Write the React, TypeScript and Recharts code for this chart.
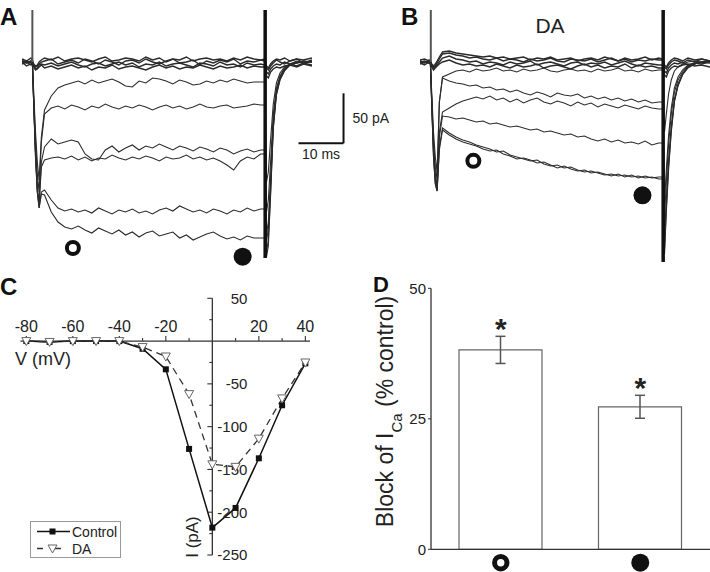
import React from 'react';
import { LineChart, Line, XAxis, YAxis, ReferenceLine, ReferenceDot, BarChart, Bar, ErrorBar } from 'recharts';

const FONT = '"Liberation Sans", Arial, Helvetica, sans-serif';
const INK = '#222';

// sampling times (ms) shared by all current traces in A and B
const TIMES = [
  0, 1, 2, 2.3, 2.6, 3.0, 3.4, 3.8, 4.3,
  5, 6.5, 8, 9.5, 11, 12.5, 14, 15.5, 17, 18.5, 20, 21.5, 23, 24.5, 26, 27.5, 29, 30.5,
  32, 33.5, 35, 36.5, 38, 39.5, 41, 42.5, 44, 45.5, 47, 48.5, 50, 51.5, 53,
  53.9, 54.3, 54.7, 55.2, 55.8, 56.5, 57.3, 58.3, 59.5, 61, 62.5, 64.4,
];

// A: control, traces at non-activating potentials (pA)
const A_BASE_1 = [2, -1, 1, 0, -3, -5, -4, -2, 0, 1, 3, -2, 0, 2, -1, 3, 1, -2, 2, 0, -3, 1, 2, -1, 3, 0, -2, 1, 3, -1, 0, 2, -3, 1, -1, 2, 0, 3, -2, 1, 0, 2, 1, -6, -8, -4, -1, 2, 0, -2, 1, 3, -1, 2];
const A_BASE_2 = [-2, 0, -3, -1, -4, -7, -6, -3, -2, -3, -1, -4, -2, 0, -3, -5, -2, -1, -4, -2, 0, -3, -1, -5, -2, -3, 0, -4, -2, -1, -3, -5, -1, -2, -4, 0, -3, -2, -5, -1, -3, -2, -3, -10, -12, -7, -4, -2, -3, 0, -2, -4, -1, -3];
const A_BASE_3 = [3, 1, 4, 2, -2, -4, -3, 0, 2, 4, 2, 5, 1, 3, 4, 2, 0, 3, 5, 1, 2, 4, 3, 1, 5, 2, 4, 0, 3, 2, 5, 1, 3, 4, 2, 3, 1, 4, 2, 5, 3, 2, 3, -4, -6, -2, 1, 3, 2, 4, 1, 3, 2, 4];
const A_BASE_4 = [0, -4, -2, -1, -5, -8, -7, -5, -3, -6, -4, -7, -5, -3, -6, -4, -8, -5, -6, -3, -7, -5, -4, -6, -8, -5, -3, -6, -4, -7, -5, -6, -3, -5, -7, -4, -6, -5, -3, -6, -4, -5, -5, -14, -16, -10, -7, -5, -6, -4, -3, -5, -2, -4];
// A: control, activating steps (pA)
const A_STEP_1 = [1, -1, 0, 0, -30, -70, -100, -118, -75, -48, -34, -26, -23, -21, -19, -22, -18, -21, -19, -17, -20, -24, -25, -19, -21, -16, -17, -19, -22, -18, -20, -23, -22, -19, -21, -18, -20, -17, -19, -21, -20, -20, -20, -120, -110, -78, -42, -21, -11, -5, -2, 1, -1, 0];
const A_STEP_2 = [-1, 1, 0, 0, -35, -80, -112, -130, -80, -52, -46, -44, -47, -43, -45, -48, -44, -46, -42, -45, -47, -44, -46, -43, -45, -48, -45, -43, -46, -44, -47, -45, -42, -45, -46, -44, -43, -46, -45, -44, -42, -43, -43, -150, -138, -100, -52, -26, -14, -6, -2, 0, 1, 0];
const A_STEP_3 = [0, -1, 1, 0, -40, -90, -125, -140, -100, -85, -77, -82, -80, -78, -80, -92, -97, -98, -88, -84, -90, -86, -83, -88, -84, -86, -82, -85, -88, -84, -86, -89, -85, -87, -90, -86, -88, -92, -89, -87, -90, -88, -88, -172, -160, -118, -60, -29, -15, -7, -3, 0, -1, 1];
const A_STEP_4 = [1, 0, -1, 0, -40, -90, -128, -142, -105, -98, -96, -95, -97, -94, -98, -95, -99, -96, -97, -93, -96, -98, -95, -97, -94, -96, -99, -95, -97, -96, -93, -97, -95, -98, -96, -99, -103, -108, -99, -95, -97, -92, -92, -180, -166, -122, -62, -30, -16, -8, -3, -1, 0, 0];
const A_STEP_5 = [0, 1, 0, 0, -42, -95, -130, -146, -130, -128, -138, -146, -149, -147, -150, -148, -151, -146, -149, -152, -148, -150, -147, -151, -149, -152, -148, -146, -149, -144, -147, -150, -148, -151, -147, -149, -152, -148, -150, -146, -149, -147, -147, -190, -178, -131, -66, -32, -17, -8, -3, -1, 0, 1];
const A_STEP_6 = [-1, 0, 1, 0, -42, -95, -130, -146, -132, -133, -150, -160, -165, -167, -164, -168, -171, -166, -169, -172, -168, -173, -170, -175, -171, -169, -174, -172, -170, -176, -173, -178, -175, -172, -170, -174, -177, -175, -178, -174, -176, -176, -176, -195, -184, -134, -67, -33, -18, -9, -3, -1, 1, 0];

// B: dopamine, traces at non-activating potentials (pA)
const B_BASE_1 = [1, -1, 2, 0, -3, -5, -4, -1, 3, 8, 9, 7, 6, 4, 5, 3, 2, 4, 1, 3, 2, 0, 3, 1, 2, 4, 1, 0, 3, 2, 1, 3, 0, 2, 4, 1, 3, 0, 2, 1, 3, 2, 2, -5, -7, -3, 0, 2, 1, -1, 2, 0, 3, 1];
const B_BASE_2 = [-2, 0, -1, -2, -4, -6, -5, -3, 0, 4, 6, 3, 2, 0, 1, -2, 0, -1, -3, 0, -2, -1, 1, -3, -1, 0, -2, -4, -1, 0, -3, -1, -2, 0, -3, -1, 1, -2, -4, -1, -2, -3, -3, -9, -11, -6, -3, -1, -2, 0, -3, -1, -2, 0];
const B_BASE_3 = [2, 3, 1, 2, -2, -4, -2, 1, 5, 10, 11, 9, 8, 7, 6, 5, 6, 4, 5, 3, 4, 5, 2, 4, 3, 5, 2, 3, 4, 1, 3, 4, 2, 5, 3, 1, 4, 2, 3, 5, 2, 4, 3, -3, -5, -1, 2, 4, 3, 1, 4, 2, 3, 1];
const B_BASE_4 = [-1, -3, 0, -1, -5, -8, -6, -4, -2, 0, 2, -1, -3, -2, -4, -3, -5, -2, -4, -6, -3, -5, -4, -2, -6, -4, -3, -5, -7, -4, -2, -5, -3, -6, -4, -5, -2, -6, -3, -5, -4, -6, -6, -13, -15, -9, -6, -4, -5, -3, -2, -4, -3, -5];
// B: dopamine, activating steps (pA)
const B_STEP_1 = [0, 1, -1, 0, -30, -70, -95, -110, -40, -15, -12, -9, -8, -10, -7, -9, -8, -6, -9, -8, -10, -7, -9, -8, -6, -9, -10, -8, -7, -9, -8, -10, -7, -9, -8, -6, -9, -8, -10, -7, -9, -8, -8, -70, -52, -32, -18, -9, -5, -2, 0, 1, 0, -1];
const B_STEP_2 = [1, 0, 0, 0, -35, -80, -105, -118, -40, -16, -19, -21, -22, -24, -23, -26, -25, -28, -27, -30, -28, -31, -33, -30, -32, -35, -31, -33, -34, -32, -36, -34, -37, -35, -38, -36, -39, -37, -40, -38, -41, -40, -40, -140, -108, -74, -46, -26, -15, -8, -3, -1, 0, 0];
const B_STEP_3 = [-1, 0, 1, 0, -38, -85, -112, -125, -70, -50, -46, -42, -39, -37, -35, -37, -34, -38, -36, -40, -37, -41, -38, -36, -40, -42, -39, -41, -44, -40, -43, -41, -45, -42, -44, -46, -43, -45, -47, -44, -46, -47, -47, -155, -120, -82, -52, -30, -18, -10, -4, -1, 0, 1];
const B_STEP_4 = [0, -1, 0, 0, -40, -90, -118, -128, -75, -54, -55, -57, -56, -58, -60, -59, -62, -61, -63, -65, -64, -66, -68, -67, -70, -69, -71, -73, -72, -75, -74, -77, -79, -77, -80, -78, -81, -80, -82, -79, -83, -81, -81, -175, -138, -98, -64, -37, -22, -12, -5, -2, 0, -1];
const B_STEP_5 = [1, 0, -1, 0, -42, -95, -122, -129, -85, -66, -71, -75, -78, -80, -83, -85, -87, -90, -89, -93, -95, -97, -99, -98, -102, -104, -103, -106, -105, -108, -110, -109, -111, -113, -112, -114, -113, -115, -114, -116, -115, -117, -117, -192, -150, -108, -70, -40, -24, -13, -6, -2, 0, 0];
const B_STEP_6 = [0, 1, 0, 0, -42, -95, -122, -129, -88, -68, -73, -77, -80, -82, -84, -87, -89, -88, -92, -94, -97, -96, -98, -101, -100, -103, -106, -104, -107, -109, -108, -111, -110, -112, -114, -112, -115, -113, -116, -114, -116, -115, -115, -188, -146, -104, -68, -39, -23, -12, -5, -2, 0, 1];

// capacitive artifacts at step onset / offset
const A_ART_ON = [{ t: 2.3, v: 52 }, { t: 2.3, v: 0 }];
const A_ART_OFF = [{ t: 54, v: 52 }, { t: 54, v: -196 }];
const B_ART_ON = [{ t: 2.4, v: 52 }, { t: 2.4, v: 0 }];
const B_ART_OFF = [{ t: 54, v: 52 }, { t: 54, v: -200 }];

// measurement points (open = early, filled = late)
const A_MARKS = [{ t: 11.3, v: -186 }, { t: 49, v: -194.7 }];
const B_MARKS = [{ t: 11.85, v: -98.8 }, { t: 49.4, v: -133.3 }];

// scale bar: 10 ms, 50 pA
const BAR_T0 = 61.4;
const BAR_I0 = -81.3;
const BAR_MS = 10;
const BAR_PA = 50;

// C: I-V relation
const IV_V = [-80, -70, -60, -50, -40, -30, -20, -10, 0, 10, 20, 30, 40];
const IV_CONTROL = [0, -1, 0, 0, 0, -9, -33, -126, -218, -195, -137, -75, -26];
const IV_DA = [0, -1, 0, 0, 0, -7, -18, -62, -144, -147, -114, -67, -25];
const IV_X_MAJOR = [-80, -60, -40, -20, 20, 40];
const IV_X_MINOR = [-70, -50, -30, -10, 10, 30];
const IV_Y_MAJOR = [50, -50, -100, -150, -200, -250];
const IV_Y_MINOR = [25, -25, -75, -125, -175, -225];

// D: block of I_Ca
const D_CATS = ['open', 'filled'];
const D_MEAN = [38.2, 27.3];
const D_SEM = [2.6, 2.2];

function buildRows(traces: number[][]) {
  return TIMES.map((t, i) => {
    const row: Record<string, number> = { t };
    traces.forEach((tr, k) => {
      row['s' + k] = tr[i];
    });
    return row;
  });
}

const ivRows = IV_V.map((v, i) => ({ v, control: IV_CONTROL[i], da: IV_DA[i] }));
const dRows = D_CATS.map((cat, i) => ({ cat, mean: D_MEAN[i], sem: D_SEM[i] }));

function TracePanel({ traces, artOn, artOff, marks, left, width, margin, children }: any) {
  const rows = buildRows(traces);
  return (
    <div style={{ position: 'absolute', left, top: 0 }}>
      <LineChart width={width} height={272} data={rows} margin={margin}>
        <XAxis type="number" dataKey="t" domain={[0, 64.4]} hide allowDataOverflow />
        <YAxis type="number" domain={[-206, 57]} hide allowDataOverflow />
        {traces.map((_: number[], k: number) => (
          <Line
            key={k}
            type="linear"
            dataKey={'s' + k}
            stroke="#2b2b2b"
            strokeWidth={k < 4 ? 1.4 : 1.1}
            dot={false}
            isAnimationActive={false}
          />
        ))}
        <Line data={artOn} type="linear" dataKey="v" stroke="#555" strokeWidth={2} dot={false} isAnimationActive={false} />
        <Line data={artOff} type="linear" dataKey="v" stroke="#111" strokeWidth={3.5} dot={false} isAnimationActive={false} />
        <ReferenceDot x={marks[0].t} y={marks[0].v} r={6} fill="#fff" stroke="#111" strokeWidth={4} ifOverflow="visible" />
        <ReferenceDot x={marks[1].t} y={marks[1].v} r={9} fill="#111" stroke="none" ifOverflow="visible" />
        {children}
      </LineChart>
    </div>
  );
}

function XTick({ cx, cy, text, major }: any) {
  return (
    <g>
      <line x1={cx} y1={cy} x2={cx} y2={cy - (major ? 5 : 3)} stroke="#333" strokeWidth={1.1} />
      {text !== undefined && (
        <text x={cx} y={cy - 9.5} textAnchor="middle" fontSize={16} fill={INK} fontFamily={FONT}>{text}</text>
      )}
    </g>
  );
}

function YTick({ cx, cy, text, major }: any) {
  return (
    <g>
      <line x1={cx - (major ? 5 : 3)} y1={cy} x2={cx} y2={cy} stroke="#333" strokeWidth={1.1} />
      {text !== undefined && (
        <text x={cx + 35} y={cy + 5.3} textAnchor="end" fontSize={15} fill={INK} fontFamily={FONT}>{text}</text>
      )}
    </g>
  );
}

function SquareDot(p: any) {
  return <rect key={'c' + p.index} x={p.cx - 3} y={p.cy - 3} width={6} height={6} fill="#111" />;
}

function TriangleDot(p: any) {
  const { cx, cy } = p;
  return (
    <polygon
      key={'d' + p.index}
      points={`${cx - 4.5},${cy - 3.5} ${cx + 4.5},${cy - 3.5} ${cx},${cy + 4.5}`}
      fill="#fff"
      stroke="#666"
      strokeWidth={1}
    />
  );
}

function CatTick({ x, y, payload }: any) {
  if (payload.value === 'open') {
    return <circle cx={x} cy={y + 13.4} r={6.2} fill="#fff" stroke="#111" strokeWidth={5} />;
  }
  return <circle cx={x} cy={y + 13.4} r={9} fill="#111" />;
}

function Asterisk({ cx, cy }: any) {
  return (
    <text x={cx} y={cy + 3} textAnchor="middle" fontSize={30} fontWeight="bold" fill={INK} fontFamily={FONT}>*</text>
  );
}

export default function App() {
  return (
    <div style={{ position: 'absolute', left: 0, top: 0, width: 710, height: 572, background: '#fff', overflow: 'hidden', fontFamily: FONT }}>
      <TracePanel
        traces={[A_BASE_1, A_BASE_2, A_BASE_3, A_BASE_4, A_STEP_1, A_STEP_2, A_STEP_3, A_STEP_4, A_STEP_5, A_STEP_6]}
        artOn={A_ART_ON}
        artOff={A_ART_OFF}
        marks={A_MARKS}
        left={0}
        width={400}
        margin={{ top: 5, right: 88, bottom: 4, left: 22 }}
      >
        <ReferenceLine
          segment={[{ x: BAR_T0, y: BAR_I0 }, { x: BAR_T0 + BAR_MS, y: BAR_I0 }]}
          stroke="#111"
          strokeWidth={2}
          ifOverflow="visible"
          label={{ value: '10 ms', position: 'bottom', offset: 6, fontSize: 14, fill: INK, fontFamily: FONT }}
        />
        <ReferenceLine
          segment={[{ x: BAR_T0 + BAR_MS, y: BAR_I0 }, { x: BAR_T0 + BAR_MS, y: BAR_I0 + BAR_PA }]}
          stroke="#111"
          strokeWidth={2}
          ifOverflow="visible"
          label={{ value: '50 pA', position: 'right', offset: 9, fontSize: 14, fill: INK, fontFamily: FONT }}
        />
      </TracePanel>

      <TracePanel
        traces={[B_BASE_1, B_BASE_2, B_BASE_3, B_BASE_4, B_STEP_1, B_STEP_2, B_STEP_3, B_STEP_4, B_STEP_5, B_STEP_6]}
        artOn={B_ART_ON}
        artOff={B_ART_OFF}
        marks={B_MARKS}
        left={400}
        width={310}
        margin={{ top: 5, right: 0, bottom: 4, left: 20 }}
      />

      <div style={{ position: 'absolute', left: 0, top: 270 }}>
        <LineChart width={360} height={302} data={ivRows} margin={{ top: 28.3, right: 50, bottom: 17, left: 20.5 }}>
          <XAxis type="number" dataKey="v" domain={[-82.5, 42]} hide allowDataOverflow />
          <YAxis type="number" domain={[-250, 50]} hide allowDataOverflow />
          <ReferenceLine y={0} stroke="#333" strokeWidth={1.3} />
          <ReferenceLine x={0} stroke="#333" strokeWidth={1.3} />
          {IV_X_MAJOR.map((v) => (
            <ReferenceDot key={'xm' + v} x={v} y={0} r={1} ifOverflow="visible" shape={(p: any) => <XTick {...p} text={String(v)} major />} />
          ))}
          {IV_X_MINOR.map((v) => (
            <ReferenceDot key={'xn' + v} x={v} y={0} r={1} ifOverflow="visible" shape={(p: any) => <XTick {...p} />} />
          ))}
          {IV_Y_MAJOR.map((v) => (
            <ReferenceDot key={'ym' + v} x={0} y={v} r={1} ifOverflow="visible" shape={(p: any) => <YTick {...p} text={String(v)} major />} />
          ))}
          {IV_Y_MINOR.map((v) => (
            <ReferenceDot key={'yn' + v} x={0} y={v} r={1} ifOverflow="visible" shape={(p: any) => <YTick {...p} />} />
          ))}
          <Line type="linear" dataKey="control" stroke="#111" strokeWidth={1.5} dot={SquareDot} isAnimationActive={false} />
          <Line type="linear" dataKey="da" stroke="#333" strokeWidth={1.3} strokeDasharray="7 5" dot={TriangleDot} isAnimationActive={false} />
        </LineChart>
      </div>

      <div style={{ position: 'absolute', left: 360, top: 270 }}>
        <BarChart width={350} height={302} data={dRows} margin={{ top: 18.3, right: 0, bottom: 0, left: 0 }} barSize={83}>
          <XAxis dataKey="cat" height={22.7} tickLine={false} tickSize={0} tickMargin={0} interval={0} axisLine={{ stroke: '#333', strokeWidth: 1.3 }} tick={<CatTick />} />
          <YAxis
            type="number"
            domain={[0, 50]}
            ticks={[0, 25, 50]}
            width={71}
            tickSize={3}
            tickMargin={2}
            axisLine={{ stroke: '#333', strokeWidth: 1.3 }}
            tickLine={{ stroke: '#333' }}
            tick={{ fontSize: 15, fill: INK, fontFamily: FONT }}
          />
          <Bar dataKey="mean" fill="#fff" stroke="#666" strokeWidth={1.2} isAnimationActive={false}>
            <ErrorBar dataKey="sem" width={5} stroke="#555" strokeWidth={1.5} direction="y" />
          </Bar>
          {dRows.map((r) => (
            <ReferenceDot key={'s' + r.cat} x={r.cat} y={r.mean + r.sem} r={1} ifOverflow="visible" shape={(p: any) => <Asterisk {...p} />} />
          ))}
        </BarChart>
      </div>

      <svg width={710} height={572} style={{ position: 'absolute', left: 0, top: 0, pointerEvents: 'none' }} fontFamily={FONT}>
        <text x={0} y={25} fontSize={24} fontWeight="bold" fill="#111">A</text>
        <text x={401} y={25} fontSize={24} fontWeight="bold" fill="#111">B</text>
        <text x={0} y={295} fontSize={24} fontWeight="bold" fill="#111">C</text>
        <text x={373} y={292} fontSize={22} fontWeight="bold" fill="#111">D</text>
        <text x={550} y={33} fontSize={21} textAnchor="middle" fill={INK}>DA</text>
        <text x={15} y={365} fontSize={18} fill={INK}>V (mV)</text>
        <text transform="translate(198,537) rotate(-90)" textAnchor="middle" fontSize={17} fill={INK}>I (pA)</text>
        <rect x={30.5} y={521.5} width={90} height={36} fill="#fff" stroke="#999" strokeWidth={1} />
        <line x1={37} y1={531.5} x2={70} y2={531.5} stroke="#111" strokeWidth={1.5} />
        <rect x={49.5} y={528.5} width={6} height={6} fill="#111" />
        <text x={72} y={537} fontSize={14} fill={INK}>Control</text>
        <line x1={37} y1={548.5} x2={70} y2={548.5} stroke="#333" strokeWidth={1.3} strokeDasharray="6 12" strokeDashoffset={0} />
        <polygon points="48,545 57,545 52.5,553" fill="#fff" stroke="#666" strokeWidth={1} />
        <text x={72} y={554} fontSize={14} fill={INK}>DA</text>
        <text transform="translate(393,411.5) rotate(-90)" textAnchor="middle" fontSize={23} fill={INK}>
          Block of I<tspan dy={9} fontSize={15}>Ca</tspan><tspan dy={-9}> (% control)</tspan>
        </text>
      </svg>
    </div>
  );
}
